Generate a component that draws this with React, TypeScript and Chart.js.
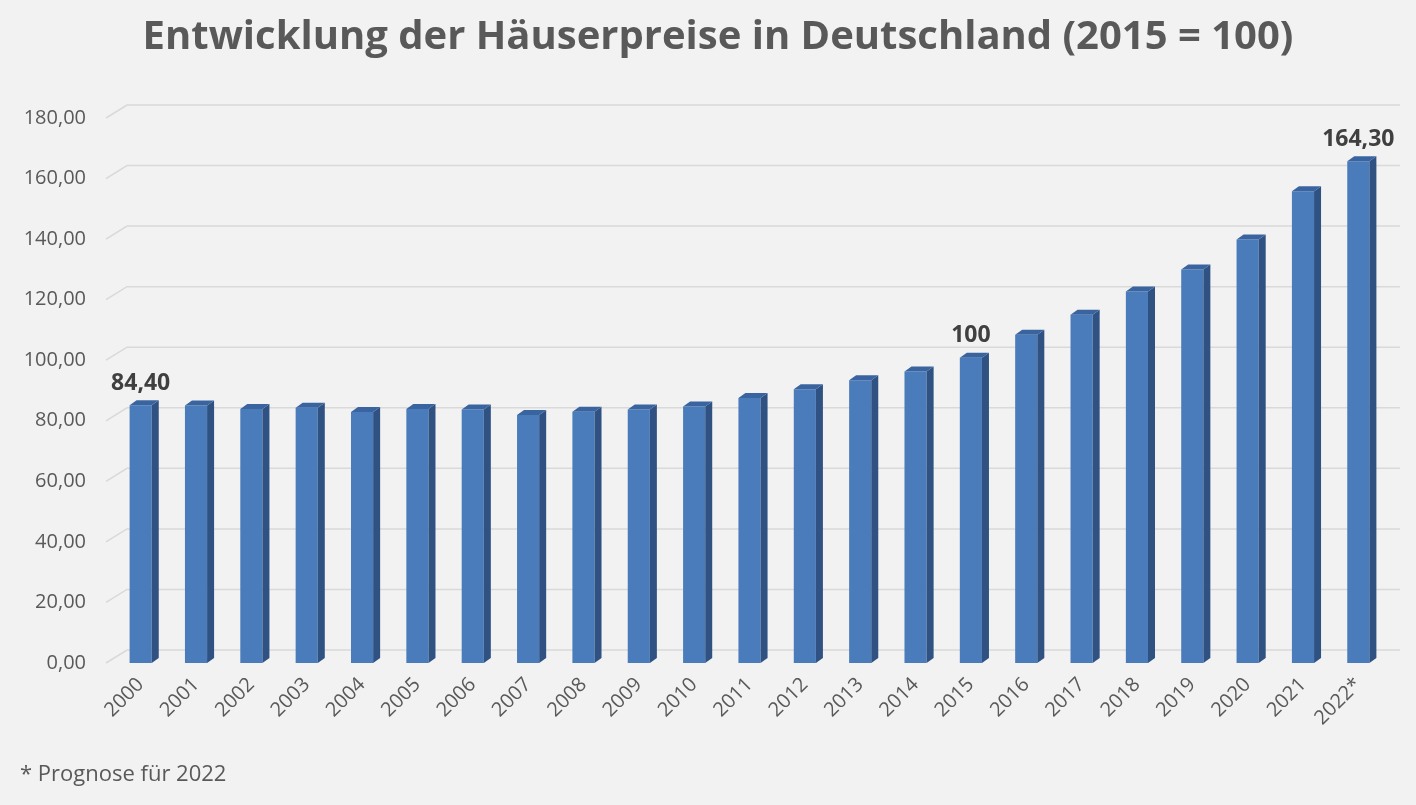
import { useEffect, useRef } from 'react';
import { Chart, registerables } from 'chart.js';

Chart.register(...registerables);

const FONT = '"Open Sans", "Liberation Sans", sans-serif';

const categories = ['2000', '2001', '2002', '2003', '2004', '2005', '2006', '2007', '2008', '2009', '2010', '2011', '2012', '2013', '2014', '2015', '2016', '2017', '2018', '2019', '2020', '2021', '2022*'];
const priceIndex = [84.4, 84.3, 83.2, 83.6, 82.2, 83.2, 83.0, 81.2, 82.3, 83.0, 84.0, 86.8, 89.7, 92.6, 95.5, 100, 107.5, 114.1, 121.7, 128.9, 138.7, 154.5, 164.3];
const yTickValues = [0, 20, 40, 60, 80, 100, 120, 140, 160, 180];
const labelledIndices = [0, 15, 22];
const labelTexts = ['84,40', '100', '164,30'];
const titleText = 'Entwicklung der Häuserpreise in Deutschland (2015 = 100)';
const footnoteText = '* Prognose für 2022';

const formatTick = (v: number) => v.toFixed(2).replace('.', ',');

const DEPTH_X = 7;
const DEPTH_Y = 5;

const grid3dPlugin = {
  id: 'grid3d',
  beforeDatasetsDraw(chart: any) {
    const { ctx, chartArea } = chart;
    const y = chart.scales.y;
    ctx.save();
    ctx.strokeStyle = '#D9D9D9';
    ctx.lineWidth = 1.5;
    for (const v of yTickValues) {
      const py = y.getPixelForValue(v);
      ctx.beginPath();
      ctx.moveTo(chartArea.left - 7, py);
      ctx.lineTo(chartArea.left + 14, py - 13);
      ctx.lineTo(chartArea.right + 14, py - 13);
      ctx.stroke();
    }
    ctx.restore();
  },
};

const bar3dPlugin = {
  id: 'bar3d',
  afterDatasetsDraw(chart: any) {
    const { ctx } = chart;
    const meta = chart.getDatasetMeta(0);
    ctx.save();
    meta.data.forEach((el: any) => {
      const { x, y, base, width } = el.getProps(['x', 'y', 'base', 'width'], true);
      const l = x - width / 2;
      const r = x + width / 2;
      ctx.fillStyle = '#2F5283';
      ctx.beginPath();
      ctx.moveTo(r, y);
      ctx.lineTo(r + DEPTH_X, y - DEPTH_Y);
      ctx.lineTo(r + DEPTH_X, base - DEPTH_Y);
      ctx.lineTo(r, base);
      ctx.closePath();
      ctx.fill();
      ctx.fillStyle = '#3A64A0';
      ctx.beginPath();
      ctx.moveTo(l, y);
      ctx.lineTo(l + DEPTH_X, y - DEPTH_Y);
      ctx.lineTo(r + DEPTH_X, y - DEPTH_Y);
      ctx.lineTo(r, y);
      ctx.closePath();
      ctx.fill();
    });
    ctx.fillStyle = '#404040';
    ctx.font = `bold 23px ${FONT}`;
    ctx.textAlign = 'center';
    ctx.textBaseline = 'middle';
    labelledIndices.forEach((idx, k) => {
      const el = meta.data[idx];
      if (!el) return;
      ctx.fillText(labelTexts[k], el.x, el.y - 22);
    });
    ctx.restore();
  },
};

const textPlugin = {
  id: 'texts',
  afterDraw(chart: any) {
    const { ctx } = chart;
    ctx.save();
    ctx.fillStyle = '#595959';
    ctx.font = `bold 40px ${FONT}`;
    ctx.textAlign = 'center';
    ctx.textBaseline = 'middle';
    ctx.fillText(titleText, 718, 38);
    ctx.font = `22px ${FONT}`;
    ctx.textAlign = 'left';
    ctx.fillText(footnoteText, 20, 775);
    ctx.restore();
  },
};

export default function App() {
  const canvasRef = useRef<HTMLCanvasElement | null>(null);

  useEffect(() => {
    document.body.style.margin = '0';
    document.body.style.background = '#F2F2F2';
    const canvas = canvasRef.current;
    if (!canvas) return;
    const chart = new Chart(canvas, {
      type: 'bar',
      data: {
        labels: categories,
        datasets: [
          {
            data: priceIndex,
            yAxisID: 'yBars',
            backgroundColor: '#4A7CBB',
            borderWidth: 0,
            barPercentage: 0.4,
            categoryPercentage: 1.0,
          },
        ],
      },
      options: {
        animation: false,
        responsive: false,
        devicePixelRatio: 1,
        layout: { padding: { left: 0, right: 30, top: 118, bottom: 0 } },
        plugins: {
          legend: { display: false },
          tooltip: { enabled: false },
          title: { display: false },
        },
        scales: {
          x: {
            grid: { display: false, drawTicks: false },
            border: { display: false },
            ticks: {
              color: '#595959',
              font: { family: FONT, size: 20 },
              minRotation: 45,
              maxRotation: 45,
              autoSkip: false,
              padding: 10,
            },
            afterFit: (scale: any) => {
              scale.height = 142;
            },
          },
          y: {
            position: 'left',
            min: 0,
            max: 180,
            grid: { display: false, drawTicks: false },
            border: { display: false },
            ticks: {
              stepSize: 20,
              color: '#595959',
              font: { family: FONT, size: 20 },
              padding: 27,
              callback: (v: any) => formatTick(Number(v)),
            },
            afterFit: (scale: any) => {
              scale.width = 113;
            },
          },
          yBars: {
            display: false,
            min: 0,
            max: 178.5,
          },
        },
      },
      plugins: [grid3dPlugin, bar3dPlugin, textPlugin],
    });
    return () => chart.destroy();
  }, []);

  return (
    <div style={{ position: 'absolute', left: 0, top: 0, width: 1416, height: 805, background: '#F2F2F2' }}>
      <canvas ref={canvasRef} width={1416} height={805} style={{ display: 'block', width: 1416, height: 805 }} />
    </div>
  );
}
